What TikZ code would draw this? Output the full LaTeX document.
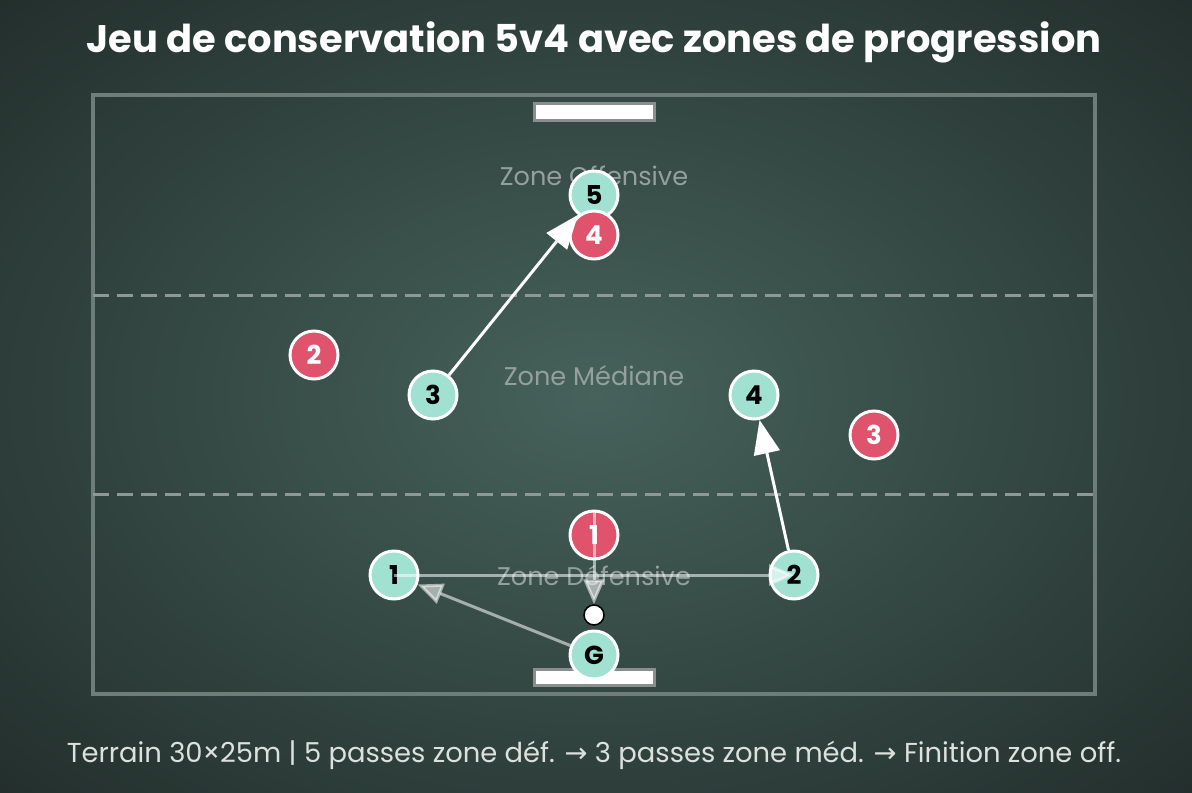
\documentclass[tikz,border=0pt]{standalone}
\usepackage{fontspec}
\setmainfont{Poppins}
\newfontfamily\flechefont{DejaVu Sans}
\usetikzlibrary{arrows.meta}
\definecolor{fondclair}{HTML}{46625B}
\definecolor{fondsombre}{HTML}{222D2A}
\definecolor{equipe}{HTML}{A0E1D1}
\definecolor{adverse}{HTML}{E0536C}
\definecolor{ligne}{HTML}{6F7D79}
\definecolor{tiret}{HTML}{8E9894}
\definecolor{zonetexte}{HTML}{95A09C}
\definecolor{legende}{HTML}{DDE1DE}
\definecolor{cadre}{HTML}{8A8E8C}

\begin{document}
\begin{tikzpicture}[x=0.5pt,y=-0.5pt,
    joueur/.style={circle,minimum size=24pt,inner sep=0pt,draw=white,line width=1.5pt,
        fill=equipe,font=\bfseries\fontsize{13}{13}\selectfont},
    adversaire/.style={joueur,fill=adverse,text=white},
    passe/.style={-{Triangle[length=17pt,width=13pt]},white,line width=1.5pt},
    passefaible/.style={-{Triangle[length=12.5pt,width=10.5pt]},white,opacity=0.55,line width=1.5pt},
    zone/.style={text=zonetexte,font=\fontsize{12.8}{14}\selectfont},
    but/.style={fill=white,draw=cadre,line width=1.5pt}]
    \useasboundingbox (0,0) rectangle (1192,792);
    \begin{scope}
        \clip (0,0) rectangle (1192,792);
        \fill[fondsombre] (0,0) rectangle (1192,792);
        \shade[inner color=fondclair,outer color=fondsombre] (594,396) ellipse (860 and 590);
    \end{scope}
    % titre
    \node[text=white,font=\bfseries\fontsize{19.2}{22}\selectfont] (titre) at (594,42)
        {Jeu de conservation 5v4 avec zones de progression};
    % terrain
    \draw[ligne,line width=1.75pt] (93,95) rectangle (1095,694);
    \draw[tiret,line width=1.5pt,dash pattern=on 8pt off 4pt] (93,295) -- (1095,295);
    \draw[tiret,line width=1.5pt,dash pattern=on 8pt off 4pt] (93,494) -- (1095,494);
    \draw[but] (534,104) rectangle (654,120);
    \draw[but] (534,669) rectangle (654,685);
    \node[zone] (zoff) at (594,176) {Zone Offensive};
    \node[zone] (zmed) at (594,376) {Zone Médiane};
    \node[zone] (zdef) at (594,576) {Zone Défensive};
    % joueurs
    \node[joueur] (e5) at (594,195) {5};
    \node[adversaire] (a4) at (594,235) {4};
    \node[adversaire] (a2) at (314,355) {2};
    \node[joueur] (e3) at (433,395) {3};
    \node[joueur] (e4) at (754,395) {4};
    \node[adversaire] (a3) at (874,435) {3};
    \node[adversaire] (a1) at (594,535) {1};
    \node[joueur] (e1) at (394,575) {1};
    \node[joueur] (e2) at (794,575) {2};
    \node[joueur] (g) at (594,655) {G};
    \node[circle,fill=white,draw=black,line width=0.75pt,minimum size=10pt,inner sep=0pt] (ballon) at (594,615) {};
    % passes
    \draw[passe] (e3) -- (e5);
    \draw[passe] (e2) -- (e4);
    \draw[passefaible] (g) -- (e1);
    \draw[passefaible] (e1.center) -- (e2.center);
    \draw[passefaible] (a1.north) -- (ballon);
    % legende
    \node[text=legende,font=\fontsize{13.7}{16}\selectfont] (legende) at (594,755)
        {Terrain 30×25m | 5 passes zone déf. {\flechefont →} 3 passes zone méd. {\flechefont →} Finition zone off.};
\end{tikzpicture}
\end{document}
